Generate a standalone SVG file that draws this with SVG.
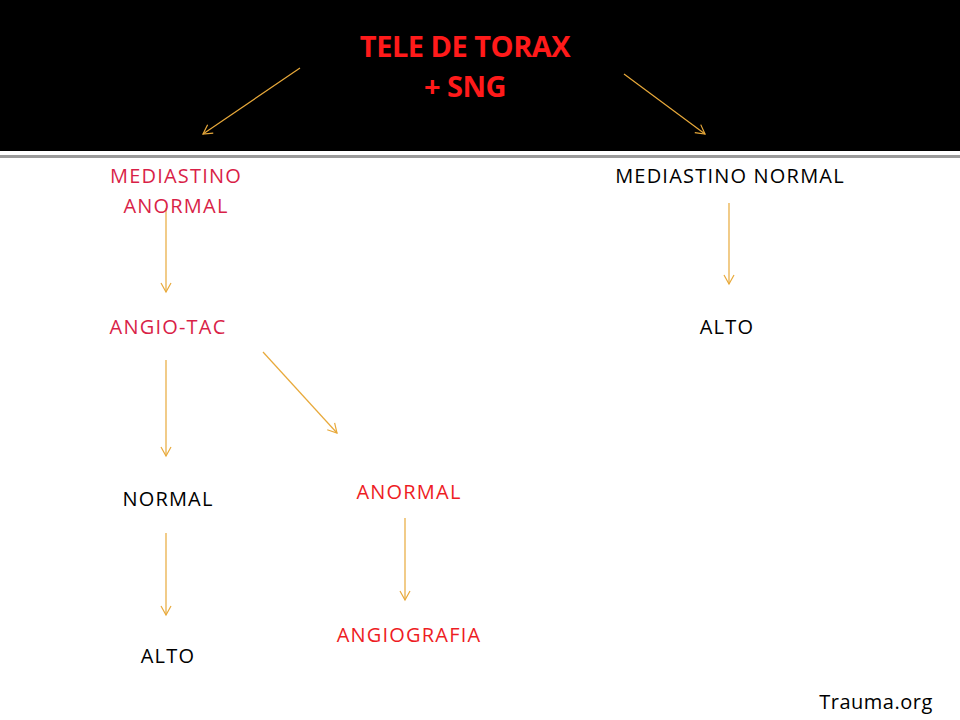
<svg xmlns="http://www.w3.org/2000/svg" width="960" height="720" viewBox="0 0 960 720">
<style>
.t{font-family:"Open Sans","Liberation Sans",sans-serif;font-size:20px;letter-spacing:1.2px;text-anchor:middle}
.h{font-size:29px;font-weight:bold;letter-spacing:-0.5px}
.c{stroke:#e8a93a;stroke-width:1.2;fill:none}
</style>
<defs><marker id="a" markerWidth="12" markerHeight="12" refX="10" refY="6" orient="auto" markerUnits="userSpaceOnUse"><path d="M1,1 L10,6 L1,11" fill="none" stroke="#e8a93a" stroke-width="1.2"/></marker></defs>
<rect width="960" height="720" fill="#fff"/>
<rect width="960" height="151" fill="#000"/>
<rect y="155" width="960" height="3" fill="#9a9a9a"/>
<g id="connectors" class="c">
<line x1="300" y1="68" x2="203" y2="134" marker-end="url(#a)"/>
<line x1="624" y1="74" x2="705" y2="134" marker-end="url(#a)"/>
<line x1="166" y1="208" x2="166" y2="292" marker-end="url(#a)"/>
<line x1="729" y1="203" x2="729" y2="284" marker-end="url(#a)"/>
<line x1="166" y1="360" x2="166" y2="456" marker-end="url(#a)"/>
<line x1="263" y1="352" x2="337" y2="433" marker-end="url(#a)"/>
<line x1="166" y1="533" x2="166" y2="615" marker-end="url(#a)"/>
<line x1="405" y1="518" x2="405" y2="600" marker-end="url(#a)"/>
</g>
<g id="n1"><text class="t h" x="465" y="57" fill="#ff1a1a">TELE DE TORAX</text><text class="t h" x="465" y="97" fill="#ff1a1a">+ SNG</text></g>
<g id="n2"><text class="t" x="176" y="183" fill="#d91f48">MEDIASTINO</text><text class="t" x="176" y="213" fill="#d91f48">ANORMAL</text></g>
<g id="n3"><text class="t" x="730" y="183" fill="#000">MEDIASTINO NORMAL</text></g>
<g id="n4"><text class="t" x="168" y="334" fill="#d91f48">ANGIO-TAC</text></g>
<g id="n5"><text class="t" x="727" y="334" fill="#000">ALTO</text></g>
<g id="n6"><text class="t" x="168" y="506" fill="#000">NORMAL</text></g>
<g id="n7"><text class="t" x="409" y="499" fill="#ee1c24">ANORMAL</text></g>
<g id="n8"><text class="t" x="168" y="663" fill="#000">ALTO</text></g>
<g id="n9"><text class="t" x="409" y="642" fill="#ee1c24">ANGIOGRAFIA</text></g>
<g id="n10"><text class="t" x="876" y="709" fill="#000" style="letter-spacing:0.5px">Trauma.org</text></g>
</svg>
